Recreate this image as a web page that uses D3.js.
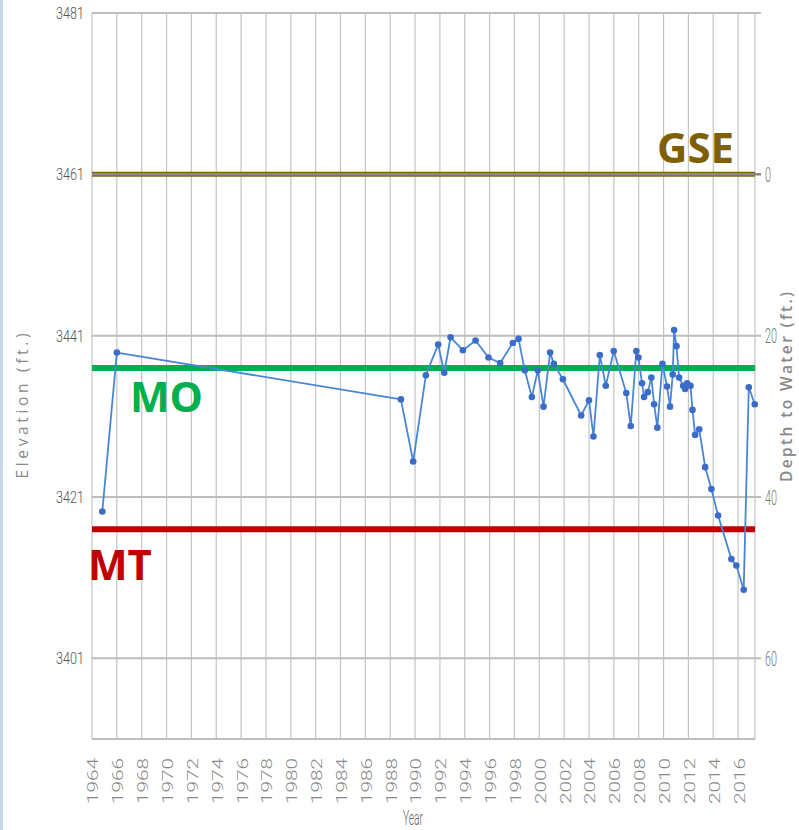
<!DOCTYPE html>
<html>
<head>
<meta charset="utf-8">
<script src="https://cdn.jsdelivr.net/npm/d3@7"></script>
<style>
  body { margin: 0; background: #fff; }
  svg { display: block; }
</style>
</head>
<body>
<div class="container"></div>
<script>
// measured water levels (decimal year, elevation in ft)
const years = [1964.83, 1966.0, 1988.86, 1989.85, 1990.87, 1991.86, 1992.35, 1992.86, 1993.85, 1994.87,
  1995.91, 1996.85, 1997.87, 1998.33, 1998.83, 1999.4, 1999.88, 2000.34, 2000.87, 2001.17,
  2001.9, 2003.37, 2004.0, 2004.36, 2004.87, 2005.35, 2005.99, 2007.0, 2007.36, 2007.81,
  2007.98, 2008.27, 2008.43, 2008.73, 2009.02, 2009.24, 2009.5, 2009.91, 2010.28, 2010.52,
  2010.74, 2010.85, 2011.04, 2011.25, 2011.58, 2011.74, 2011.9, 2012.17, 2012.33, 2012.54,
  2012.87, 2013.35, 2013.85, 2014.39, 2015.46, 2015.86, 2016.45, 2016.86, 2017.34];
const elevations = [3419.2, 3438.9, 3433.1, 3425.4, 3436.1, 3439.9, 3436.4, 3440.8, 3439.2, 3440.4,
  3438.3, 3437.6, 3440.1, 3440.6, 3436.7, 3433.4, 3436.7, 3432.2, 3438.9, 3437.5,
  3435.6, 3431.1, 3433.0, 3428.5, 3438.6, 3434.8, 3439.1, 3433.9, 3429.8, 3439.1,
  3438.3, 3435.1, 3433.4, 3434.0, 3435.8, 3432.5, 3429.6, 3437.5, 3434.7, 3432.2,
  3436.2, 3441.7, 3439.7, 3435.8, 3434.8, 3434.4, 3435.1, 3434.8, 3431.8, 3428.7,
  3429.4, 3424.7, 3422.0, 3418.7, 3413.3, 3412.5, 3409.5, 3434.6, 3432.5];

// reference levels
const refNames = ["GSE", "MO", "MT"];
const refValues = [3461, 3437, 3417];

// axis ticks
const yearTicks = d3.range(1964, 2017, 2);
const elevTicks = [3481, 3461, 3441, 3421, 3401];
const depthTicks = [0, 20, 40, 60];
const groundSurface = 3461;

const data = years.map((y, i) => ({year: y, elev: elevations[i]}));

const width = 799, height = 830;
const margin = {top: 13, right: 44, bottom: 91, left: 92};

const svg = d3.select(".container")
  .append("svg")
  .attr("width", width)
  .attr("height", height);

// faint window edge on the left
svg.append("rect").attr("x", 0).attr("y", 0).attr("width", 3).attr("height", height).attr("fill", "#c9d6e3");

const x_scale = d3.scaleLinear()
  .domain([1964, 2017.36])
  .range([margin.left, width - margin.right]);

const y_scale = d3.scaleLinear()
  .domain([3391, 3481])
  .range([height - margin.bottom, margin.top]);

const depth_scale = d3.scaleLinear()
  .domain([groundSurface - 3391, groundSurface - 3481])
  .range([height - margin.bottom, margin.top]);

const x0 = x_scale.range()[0], x1 = x_scale.range()[1];
const yTop = y_scale.range()[1], yBot = y_scale.range()[0];

// vertical grid
svg.append("g")
  .selectAll("line")
  .data(yearTicks.concat([x_scale.domain()[1]]))
  .join("line")
  .attr("x1", d => x_scale(d)).attr("x2", d => x_scale(d))
  .attr("y1", yTop).attr("y2", yBot)
  .attr("stroke", "#c4c4c4")
  .attr("stroke-width", 1.2);

// horizontal grid + bottom border
svg.append("g")
  .selectAll("line")
  .data(elevTicks.concat([3391]))
  .join("line")
  .attr("x1", x0).attr("x2", d => d === 3391 ? x1 : x1 + 6)
  .attr("y1", d => y_scale(d)).attr("y2", d => y_scale(d))
  .attr("stroke", "#bdbdbd")
  .attr("stroke-width", 2);

// left axis labels
svg.append("g")
  .selectAll("text")
  .data(elevTicks)
  .join("text")
  .attr("x", 84)
  .attr("y", d => y_scale(d))
  .attr("dy", "0.36em")
  .attr("text-anchor", "end")
  .attr("font-family", "Roboto, sans-serif")
  .attr("font-weight", 300)
  .attr("font-size", 16.5)
  .attr("textLength", 28)
  .attr("lengthAdjust", "spacingAndGlyphs")
  .attr("fill", "#555")
  .text(d => d);

// right axis labels (depth)
svg.append("g")
  .selectAll("text")
  .data(depthTicks)
  .join("text")
  .attr("x", 765)
  .attr("y", d => depth_scale(d))
  .attr("dy", "0.36em")
  .attr("text-anchor", "start")
  .attr("font-family", "Roboto, sans-serif")
  .attr("font-weight", 300)
  .attr("font-size", 21)
  .attr("textLength", d => String(d).length * 6)
  .attr("lengthAdjust", "spacingAndGlyphs")
  .attr("fill", "#777")
  .text(d => d);

// x axis labels
svg.append("g")
  .selectAll("text")
  .data(yearTicks)
  .join("text")
  .attr("transform", d => `translate(${x_scale(d) + 1},758) rotate(-90)`)
  .attr("dy", "0.36em")
  .attr("text-anchor", "end")
  .attr("font-family", "Roboto, sans-serif")
  .attr("font-weight", 300)
  .attr("font-size", 15)
  .attr("textLength", 46)
  .attr("lengthAdjust", "spacingAndGlyphs")
  .attr("fill", "#888")
  .text(d => d);

// axis titles
svg.append("text")
  .attr("transform", "translate(28,406) rotate(-90)")
  .attr("text-anchor", "middle")
  .attr("font-family", "'Open Sans', sans-serif")
  .attr("font-size", 15.5)
  .attr("textLength", 145)
  .attr("fill", "#8a8a8a")
  .text("Elevation (ft.)");

svg.append("text")
  .attr("transform", "translate(792,387) rotate(-90)")
  .attr("text-anchor", "middle")
  .attr("font-family", "'Open Sans', sans-serif")
  .attr("font-weight", 600)
  .attr("font-size", 15.5)
  .attr("textLength", 190)
  .attr("fill", "#888")
  .text("Depth to Water (ft.)");

svg.append("text")
  .attr("x", 413)
  .attr("y", 825)
  .attr("text-anchor", "middle")
  .attr("font-family", "Roboto, sans-serif")
  .attr("font-weight", 300)
  .attr("font-size", 20)
  .attr("textLength", 20)
  .attr("lengthAdjust", "spacingAndGlyphs")
  .attr("fill", "#666")
  .text("Year");

// reference lines
const refColors = ["#7f6000", "#00b050", "#c00000"];
const refLabelPos = [[657, 163], [130, 412], [88, 580]];

svg.append("g")
  .selectAll("line")
  .data(refValues)
  .join("line")
  .attr("x1", x0).attr("x2", x1)
  .attr("y1", d => y_scale(d)).attr("y2", d => y_scale(d))
  .attr("stroke", (d, i) => refColors[i])
  .attr("stroke-width", (d, i) => i === 0 ? 5 : 6);

// grey grid line showing through the GSE band
svg.append("line")
  .attr("x1", x0).attr("x2", x1 + 6)
  .attr("y1", y_scale(groundSurface)).attr("y2", y_scale(groundSurface))
  .attr("stroke", "#8a8a8a")
  .attr("stroke-width", 2.5);

svg.append("g")
  .selectAll("text")
  .data(refNames)
  .join("text")
  .attr("x", (d, i) => refLabelPos[i][0])
  .attr("y", (d, i) => refLabelPos[i][1])
  .attr("font-family", "'Open Sans', sans-serif")
  .attr("font-weight", 700)
  .attr("font-size", 42)
  .attr("fill", (d, i) => refColors[i])
  .text(d => d);

// hydrograph
const line = d3.line()
  .x(d => x_scale(d.year))
  .y(d => y_scale(d.elev));

svg.append("path")
  .datum(data)
  .attr("fill", "none")
  .attr("stroke", "#4a86d6")
  .attr("stroke-width", 1.8)
  .attr("stroke-linejoin", "round")
  .attr("d", line);

svg.append("g")
  .selectAll("circle")
  .data(data)
  .join("circle")
  .attr("cx", d => x_scale(d.year))
  .attr("cy", d => y_scale(d.elev))
  .attr("r", 3.3)
  .attr("fill", "#3a6cc8");
</script>
</body>
</html>
